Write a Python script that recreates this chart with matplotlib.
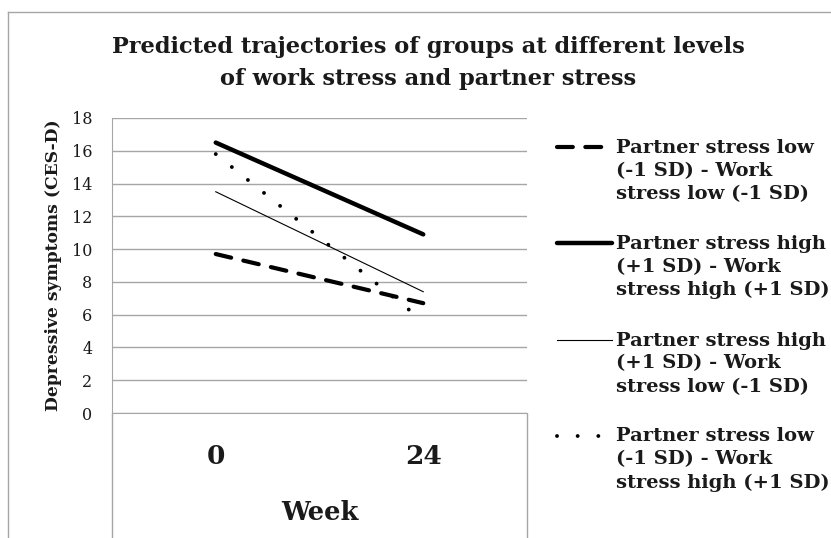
import matplotlib
matplotlib.use('Agg')
import matplotlib.pyplot as plt
import numpy as np
from matplotlib.lines import Line2D

# data
weeks = ['0', '24']
low_low = [9.7, 6.7]       # partner low, work low
high_high = [16.5, 10.9]   # partner high, work high
high_low = [13.5, 7.4]     # partner high, work low
low_high = [15.8, 5.6]     # partner low, work high
labels = ['Partner stress low\n(-1 SD) - Work\nstress low (-1 SD)',
          'Partner stress high\n(+1 SD) - Work\nstress high (+1 SD)',
          'Partner stress high\n(+1 SD) - Work\nstress low (-1 SD)',
          'Partner stress low\n(-1 SD) - Work\nstress high (+1 SD)']
yticks = np.arange(0, 19, 2)

W, H = 831, 538
plt.rcParams['font.family'] = ['DejaVu Serif']
grid_c = '#a6a6a6'
ink = '#1a1a1a'

fig = plt.figure(figsize=(W / 100, H / 100), dpi=100)
ax = fig.add_axes([112 / W, 1 - 413 / H, 415 / W, 295 / H])

x = np.arange(len(weeks)) + 0.5
styles = [
    dict(color='black', lw=3.0, linestyle=(0, (3.8, 3.0)), dash_capstyle='round'),
    dict(color='black', lw=3.2, solid_capstyle='round'),
    dict(color='black', lw=0.8),
    dict(color='black', lw=2.8, linestyle=(0, (0.01, 5.3)), dash_capstyle='round'),
]
series = [low_low, high_high, high_low, low_high]
for vals, st in zip(series, styles):
    ax.plot(x, vals, **st)

ax.set_xlim(0, 2)
ax.set_ylim(0, 18)
ax.set_yticks(yticks)
ax.yaxis.grid(True, color=grid_c, lw=1.0)
ax.set_axisbelow(True)
ax.tick_params(axis='y', length=0, pad=14, labelsize=11.5, labelcolor=ink)

# category boundaries get long ticks, labels sit between them
ax.set_xticks([0, 2])
ax.set_xticklabels(['', ''])
ax.tick_params(axis='x', which='major', length=90, color=grid_c, width=1.0)
ax.set_xticks(x, minor=True)
ax.set_xticklabels(weeks, minor=True, fontsize=19, fontweight='bold', color=ink)
ax.tick_params(axis='x', which='minor', length=0, pad=22)

for s in ['top', 'right']:
    ax.spines[s].set_visible(False)
ax.spines['left'].set_color(grid_c)
ax.spines['bottom'].set_color(grid_c)

ax.set_ylabel('Depressive symptoms (CES-D)', fontsize=12.3, fontweight='bold', color=ink)
ax.yaxis.set_label_coords(-0.12, 0.5)
ax.set_xlabel('Week', fontsize=18.5, fontweight='bold', color=ink)
ax.xaxis.set_label_coords(0.5, -0.295)

# va='baseline' on multi-line text pins the last line
fig.text(428 / W, 1 - 85 / H,
         'Predicted trajectories of groups at different levels\nof work stress and partner stress',
         ha='center', va='baseline', fontsize=16.2, fontweight='bold',
         linespacing=1.57, color=ink)

# legend, drawn by hand so the key lines up with the first text line
for i, (lab, st) in enumerate(zip(labels, styles)):
    yk = 147 + i * 96.3
    fig.add_artist(Line2D([557 / W, 612 / W], [1 - yk / H, 1 - yk / H], **st))
    fig.text(616 / W, 1 - (yk + 52) / H, lab, ha='left', va='baseline', fontsize=14,
             fontweight='bold', linespacing=1.36, color=ink)

# chart frame
fig.add_artist(Line2D([8 / W, 1], [1 - 12 / H, 1 - 12 / H], color=grid_c, lw=1.0))
fig.add_artist(Line2D([8 / W, 8 / W], [0, 1 - 12 / H], color=grid_c, lw=1.0))

fig.savefig('out.png', dpi=100)
